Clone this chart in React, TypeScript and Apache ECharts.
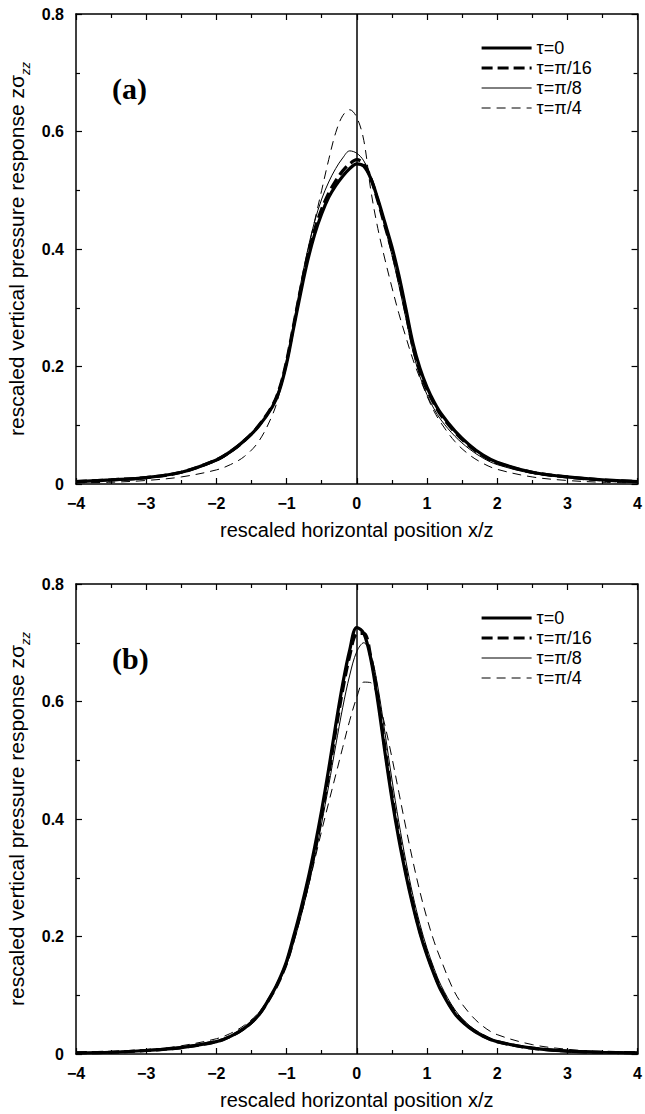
import React, { useEffect, useRef } from "react";
import * as echarts from "echarts";

const X = [-4, -3.5, -3, -2.5, -2, -1.8, -1.6, -1.4, -1.2, -1.1, -1, -0.9, -0.8, -0.7, -0.6, -0.5, -0.4, -0.3, -0.2, -0.1, 0, 0.1, 0.2, 0.3, 0.4, 0.5, 0.6, 0.7, 0.8, 0.9, 1, 1.1, 1.2, 1.4, 1.6, 1.8, 2, 2.5, 3, 3.5, 4];

const SERIES_NAMES = ["τ=0", "τ=π/16", "τ=π/8", "τ=π/4"];

// panel (a)
const A_TAU0 = [0.004, 0.007, 0.011, 0.020, 0.041, 0.055, 0.074, 0.098, 0.132, 0.160, 0.205, 0.265, 0.325, 0.380, 0.425, 0.460, 0.488, 0.508, 0.524, 0.537, 0.545, 0.541, 0.520, 0.485, 0.445, 0.404, 0.355, 0.298, 0.240, 0.197, 0.165, 0.140, 0.120, 0.090, 0.067, 0.049, 0.037, 0.020, 0.012, 0.007, 0.004];
const A_PI16 = [0.004, 0.007, 0.011, 0.020, 0.041, 0.055, 0.074, 0.099, 0.134, 0.163, 0.209, 0.270, 0.332, 0.388, 0.433, 0.468, 0.495, 0.516, 0.533, 0.545, 0.552, 0.545, 0.520, 0.482, 0.440, 0.398, 0.348, 0.292, 0.234, 0.192, 0.161, 0.137, 0.117, 0.088, 0.065, 0.048, 0.036, 0.020, 0.012, 0.007, 0.004];
const A_PI8 = [0.003, 0.006, 0.010, 0.019, 0.039, 0.053, 0.072, 0.098, 0.134, 0.165, 0.212, 0.275, 0.340, 0.398, 0.447, 0.485, 0.514, 0.537, 0.555, 0.567, 0.563, 0.550, 0.523, 0.484, 0.438, 0.390, 0.338, 0.282, 0.226, 0.183, 0.152, 0.128, 0.109, 0.081, 0.060, 0.044, 0.033, 0.018, 0.011, 0.006, 0.004];
const A_PI4 = [0.002, 0.003, 0.006, 0.012, 0.024, 0.033, 0.047, 0.072, 0.118, 0.155, 0.205, 0.265, 0.333, 0.395, 0.448, 0.500, 0.552, 0.598, 0.627, 0.637, 0.624, 0.585, 0.500, 0.435, 0.383, 0.335, 0.290, 0.250, 0.212, 0.180, 0.150, 0.124, 0.104, 0.072, 0.050, 0.035, 0.025, 0.012, 0.006, 0.003, 0.002];

// panel (b)
const B_TAU0 = [0.002, 0.003, 0.006, 0.011, 0.021, 0.030, 0.044, 0.066, 0.104, 0.128, 0.158, 0.200, 0.245, 0.295, 0.352, 0.415, 0.485, 0.560, 0.630, 0.688, 0.726, 0.716, 0.672, 0.600, 0.515, 0.435, 0.365, 0.305, 0.252, 0.206, 0.168, 0.136, 0.108, 0.068, 0.045, 0.030, 0.021, 0.010, 0.005, 0.003, 0.002];
const B_PI16 = [0.002, 0.003, 0.006, 0.011, 0.021, 0.030, 0.044, 0.066, 0.103, 0.126, 0.155, 0.196, 0.240, 0.289, 0.345, 0.407, 0.476, 0.550, 0.620, 0.678, 0.715, 0.716, 0.676, 0.608, 0.522, 0.442, 0.372, 0.310, 0.256, 0.209, 0.171, 0.138, 0.110, 0.070, 0.046, 0.031, 0.021, 0.010, 0.005, 0.003, 0.002];
const B_PI8 = [0.002, 0.003, 0.006, 0.011, 0.021, 0.030, 0.044, 0.066, 0.102, 0.124, 0.151, 0.189, 0.232, 0.280, 0.334, 0.393, 0.457, 0.525, 0.590, 0.645, 0.685, 0.700, 0.680, 0.625, 0.548, 0.468, 0.394, 0.328, 0.270, 0.221, 0.180, 0.146, 0.117, 0.075, 0.049, 0.033, 0.022, 0.011, 0.005, 0.003, 0.002];
const B_PI4 = [0.002, 0.004, 0.007, 0.014, 0.026, 0.035, 0.049, 0.070, 0.103, 0.125, 0.155, 0.192, 0.235, 0.280, 0.330, 0.380, 0.428, 0.475, 0.522, 0.568, 0.607, 0.633, 0.632, 0.605, 0.560, 0.505, 0.445, 0.385, 0.328, 0.276, 0.231, 0.192, 0.160, 0.104, 0.070, 0.047, 0.033, 0.016, 0.008, 0.004, 0.003];

const X_TITLE = "rescaled horizontal position x/z";
const Y_TITLE = "rescaled vertical pressure response zσ{sub|zz}";
const PANEL_LABELS = ["(a)", "(b)"];

const FONT = "'Liberation Sans', Arial, Helvetica, sans-serif";

const STYLES = [
  { width: 3.2, type: "solid" as any },
  { width: 3.2, type: [11, 5] as any },
  { width: 1, type: "solid" as any },
  { width: 1, type: [9, 6] as any },
];

export default function App() {
  const ref = useRef<HTMLDivElement>(null);
  useEffect(() => {
    if (!ref.current) return;
    const chart = echarts.init(ref.current, null, { renderer: "svg" });
    const gridTops = [14, 584];
    const grids = gridTops.map((t) => ({ left: 76, top: t, width: 565, height: 470 }));

    const axisLineStyle = { color: "#000", width: 1.5 };
    const tick = { show: true, inside: true, length: 6, lineStyle: { color: "#000", width: 1.2 } };
    const minor = { show: true, splitNumber: 2, length: 4, lineStyle: { color: "#000", width: 1.2 } };
    const xAxes: any[] = [];
    const yAxes: any[] = [];
    gridTops.forEach((_, g) => {
      xAxes.push({
        type: "value", gridIndex: g, min: -4, max: 4, interval: 1, position: "bottom",
        axisLine: { show: true, onZero: false, lineStyle: axisLineStyle },
        axisTick: tick, minorTick: minor, splitLine: { show: false },
        axisLabel: {
          margin: 11, color: "#000", fontSize: 16, fontWeight: "bold", fontFamily: FONT,
          formatter: (v: number) => (v < 0 ? "\u2212" + Math.abs(v) : String(v)),
        },
        name: X_TITLE, nameLocation: "middle", nameGap: 36,
        nameTextStyle: { color: "#000", fontSize: 20, fontFamily: FONT },
      });
      xAxes.push({
        type: "value", gridIndex: g, min: -4, max: 4, interval: 1, position: "top",
        axisLine: { show: true, onZero: false, lineStyle: axisLineStyle },
        axisTick: tick, minorTick: minor, splitLine: { show: false }, axisLabel: { show: false },
      });
      yAxes.push({
        type: "value", gridIndex: g, min: 0, max: 0.8, interval: 0.2, position: "left",
        axisLine: { show: true, onZero: false, lineStyle: axisLineStyle },
        axisTick: tick, minorTick: minor, splitLine: { show: false },
        axisLabel: { margin: 12, color: "#000", fontSize: 16, fontWeight: "bold", fontFamily: FONT },
      });
      yAxes.push({
        type: "value", gridIndex: g, min: 0, max: 0.8, interval: 0.2, position: "right",
        axisLine: { show: true, onZero: false, lineStyle: axisLineStyle },
        axisTick: tick, minorTick: minor, splitLine: { show: false }, axisLabel: { show: false },
      });
    });

    const panels = [
      [A_TAU0, A_PI16, A_PI8, A_PI4],
      [B_TAU0, B_PI16, B_PI8, B_PI4],
    ];
    const series: any[] = [];
    panels.forEach((vals, p) => {
      vals.forEach((arr, i) => {
        series.push({
          type: "line", name: SERIES_NAMES[i], xAxisIndex: p * 2, yAxisIndex: p * 2,
          data: X.map((x, k) => [x, arr[k]]),
          smooth: 0.35, symbol: "none", showSymbol: false,
          lineStyle: { color: "#000", width: STYLES[i].width, type: STYLES[i].type },
          itemStyle: { color: "#000" },
          z: 5 - i,
          markLine: i === 0 ? {
            silent: true, symbol: "none", label: { show: false },
            lineStyle: { color: "#000", width: 1.5, type: "solid" },
            data: [{ xAxis: 0 }],
          } : undefined,
        });
      });
    });

    const legends = gridTops.map((t) => ({
      data: SERIES_NAMES.map((n, i) => ({
        name: n,
        lineStyle: { color: "#000", width: STYLES[i].width, type: STYLES[i].type },
        itemStyle: { opacity: 0 },
      })),
      orient: "vertical", left: 480, top: t + 25, padding: 0,
      itemWidth: 50, itemHeight: 14, itemGap: 2, selectedMode: false,
      itemStyle: { opacity: 0 },
      textStyle: { color: "#000", fontSize: 18, fontFamily: FONT },
    }));

    const graphic: any[] = [];
    gridTops.forEach((t, i) => {
      graphic.push({
        type: "text", left: 112, top: t + 59,
        style: { text: PANEL_LABELS[i], font: "bold 30px 'Liberation Serif', 'Times New Roman', serif", fill: "#000" },
      });
      graphic.push({
        type: "text", x: 16, y: t + 235, rotation: Math.PI / 2,
        style: {
          text: Y_TITLE, fill: "#000", fontSize: 21, fontFamily: FONT,
          align: "center", verticalAlign: "middle",
          rich: { sub: { fontSize: 13, fontStyle: "italic", fontFamily: FONT, fill: "#000", lineHeight: 32, verticalAlign: "bottom" } },
        },
      });
    });

    chart.setOption({
      animation: false,
      backgroundColor: "#fff",
      grid: grids,
      xAxis: xAxes,
      yAxis: yAxes,
      series,
      legend: legends,
      graphic,
    });
    return () => chart.dispose();
  }, []);
  return <div ref={ref} style={{ position: "absolute", left: 0, top: 0, width: 645, height: 1114 }} />;
}
